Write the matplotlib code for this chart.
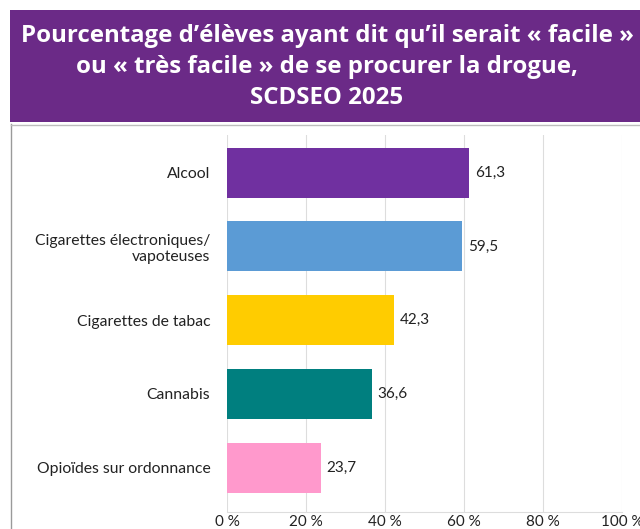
import matplotlib
matplotlib.use("Agg")
import matplotlib.pyplot as plt
from matplotlib.patches import Rectangle
from matplotlib.lines import Line2D

categories = ["Alcool", "Cigarettes électroniques/\nvapoteuses", "Cigarettes de tabac",
              "Cannabis", "Opioïdes sur ordonnance"]
values = [61.3, 59.5, 42.3, 36.6, 23.7]
colors = ["#7030A0", "#5B9BD5", "#FFCC00", "#007F7F", "#FF99CC"]
xticks = [0, 20, 40, 60, 80, 100]
xticklabels = ["0 %", "20 %", "40 %", "60 %", "80 %", "100 %"]
title = "Pourcentage d’élèves ayant dit qu’il serait « facile »\nou « très facile » de se procurer la drogue,\nSCDSEO 2025"

W, H = 640, 529
fig = plt.figure(figsize=(W / 100, H / 100), dpi=100)

# purple banner
fig.add_artist(Rectangle((10 / W, 1 - 122 / H), 630 / W, 112 / H,
                         transform=fig.transFigure, facecolor="#6B2A87", edgecolor="none"))
fig.text(327 / W, 1 - 67 / H, title, color="white", fontsize=17.3, fontweight="bold",
         family=["Open Sans", "DejaVu Sans"], ha="center", va="center", linespacing=1.38)

# panel border
fig.add_artist(Line2D([10.5 / W, 10.5 / W], [0, 1 - 124 / H], transform=fig.transFigure,
                      color="#9a9a9a", lw=1))
fig.add_artist(Line2D([10.5 / W, 1], [1 - 124.5 / H, 1 - 124.5 / H], transform=fig.transFigure,
                      color="#bdbdbd", lw=1))

ax = fig.add_axes([227 / W, 1 - 512 / H, 395 / W, (512 - 135) / H])
y = list(range(len(categories)))
ax.barh(y, values, height=0.68, color=colors, zorder=3)
for yi, v in zip(y, values):
    ax.text(v + 1.5, yi, f"{v:.1f}".replace(".", ","), va="center", ha="left",
            fontsize=11, family="Lato", color="#222222")
ax.set_xlim(0, 100)
ax.set_ylim(4.6, -0.51)
ax.set_yticks(y)
ax.set_yticklabels(categories, family="Lato", fontsize=11.3, color="#222222")
ax.set_xticks(xticks)
ax.set_xticklabels(xticklabels, family="Lato", fontsize=11, color="#222222")
ax.tick_params(length=0)
ax.tick_params(axis="x", pad=2)
ax.tick_params(axis="y", pad=12)
ax.grid(axis="x", color="#dddddd", lw=0.8, zorder=0)
for s in ["top", "right", "left"]:
    ax.spines[s].set_visible(False)
ax.spines["bottom"].set_color("#dddddd")
ax.spines["bottom"].set_linewidth(0.8)

fig.savefig("out.png", dpi=100)
